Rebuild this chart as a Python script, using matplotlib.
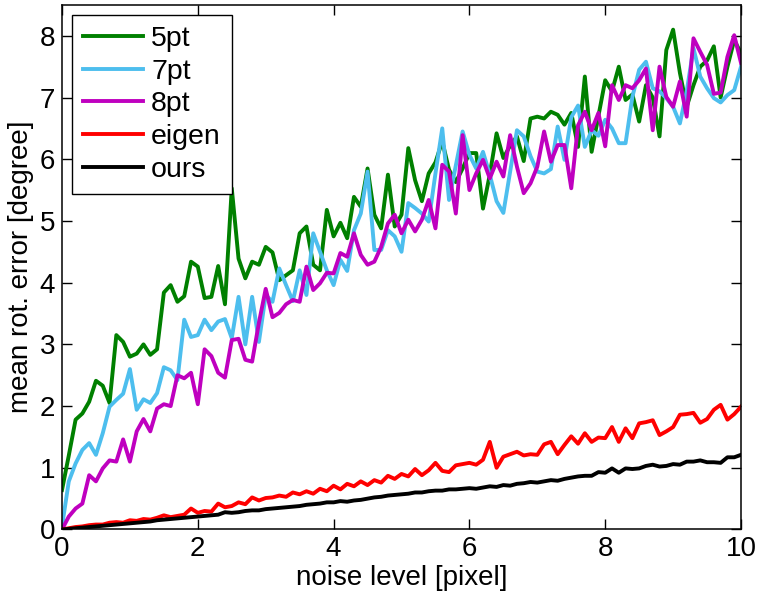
import numpy as np
import matplotlib
matplotlib.use("Agg")
import matplotlib.pyplot as plt

plt.rcParams['font.family'] = ['Liberation Sans', 'DejaVu Sans']

# noise level [pixel], 0..10 step 0.1
noise_level = np.linspace(0, 10, 101)

err_5pt = [0.64, 1.20, 1.78, 1.88, 2.07, 2.41, 2.33, 2.05, 3.15, 3.04,
           2.80, 2.85, 3.00, 2.83, 2.92, 3.84, 3.96, 3.69, 3.78, 4.34,
           4.26, 3.75, 3.77, 4.27, 3.65, 5.53, 4.39, 4.07, 4.34, 4.29,
           4.58, 4.49, 4.04, 4.12, 4.20, 4.80, 4.91, 4.29, 4.20, 5.18,
           4.75, 4.97, 4.72, 5.39, 5.23, 5.85, 5.10, 4.88, 5.75, 4.91,
           5.10, 6.18, 5.66, 5.32, 5.77, 5.95, 6.29, 5.83, 5.63, 5.85,
           6.10, 6.10, 5.20, 5.75, 6.42, 6.02, 6.22, 6.37, 5.97, 6.66,
           6.69, 6.66, 6.77, 6.72, 6.56, 6.75, 6.20, 7.34, 6.12, 6.70,
           7.28, 7.10, 7.50, 6.96, 7.05, 6.61, 7.20, 7.00, 6.37, 7.77,
           8.10, 7.40, 6.85, 7.20, 7.50, 7.60, 7.83, 7.00, 7.50, 7.93, 7.72]

err_7pt = [0.05, 0.78, 1.07, 1.29, 1.40, 1.21, 1.56, 1.99, 2.10, 2.20,
           2.60, 1.94, 2.11, 2.05, 2.21, 2.63, 2.58, 2.42, 3.40, 3.12,
           3.15, 3.40, 3.23, 3.37, 3.41, 3.10, 3.77, 3.00, 3.77, 3.04,
           3.80, 3.69, 4.23, 3.96, 3.70, 4.20, 3.80, 4.80, 4.50, 4.20,
           3.96, 4.37, 4.19, 4.85, 5.12, 5.80, 4.53, 4.53, 4.85, 4.75,
           4.50, 5.29, 5.21, 5.12, 4.99, 5.77, 6.50, 5.34, 5.90, 6.45,
           6.07, 5.85, 6.12, 5.75, 5.32, 5.13, 5.80, 6.47, 6.37, 6.05,
           5.80, 5.77, 5.84, 6.53, 5.99, 6.68, 6.87, 6.20, 6.47, 6.38,
           6.64, 6.50, 6.26, 6.26, 7.01, 7.45, 7.58, 7.15, 7.10, 6.99,
           6.85, 6.58, 7.10, 7.80, 7.34, 7.15, 6.99, 6.92, 7.04, 7.12, 7.50]

err_8pt = [0.00, 0.21, 0.34, 0.42, 0.88, 0.78, 0.99, 1.12, 1.10, 1.46,
           1.10, 1.59, 1.79, 1.59, 1.96, 2.03, 2.00, 2.50, 2.45, 2.54,
           2.03, 2.92, 2.81, 2.54, 2.46, 3.07, 3.09, 2.75, 2.72, 3.35,
           3.90, 3.44, 3.51, 3.65, 3.72, 3.69, 4.26, 3.88, 3.99, 4.16,
           4.15, 4.48, 4.42, 4.80, 4.45, 4.29, 4.34, 4.58, 4.96, 5.10,
           4.80, 5.02, 4.83, 5.02, 5.34, 4.88, 5.91, 5.80, 5.12, 6.39,
           5.50, 5.77, 5.99, 5.69, 5.96, 5.72, 6.39, 5.88, 5.45, 5.61,
           5.88, 6.45, 5.96, 6.23, 6.23, 5.53, 6.55, 6.77, 6.47, 6.75,
           6.21, 7.20, 6.96, 7.20, 7.15, 7.28, 7.47, 6.47, 7.50, 7.01,
           6.85, 7.26, 6.69, 7.96, 7.74, 7.53, 7.06, 7.08, 7.66, 8.01, 7.56]

err_eigen = [0.00, 0.02, 0.04, 0.05, 0.07, 0.08, 0.08, 0.11, 0.12, 0.11,
             0.15, 0.14, 0.17, 0.16, 0.19, 0.23, 0.20, 0.22, 0.24, 0.34,
             0.27, 0.30, 0.29, 0.42, 0.36, 0.38, 0.44, 0.41, 0.52, 0.47,
             0.51, 0.52, 0.55, 0.53, 0.60, 0.57, 0.62, 0.58, 0.66, 0.62,
             0.71, 0.65, 0.74, 0.70, 0.78, 0.72, 0.80, 0.76, 0.87, 0.82,
             0.90, 0.86, 0.98, 0.88, 0.96, 1.08, 0.95, 0.93, 1.04, 1.06,
             1.08, 1.05, 1.13, 1.42, 1.00, 1.18, 1.22, 1.26, 1.20, 1.22,
             1.21, 1.38, 1.42, 1.22, 1.37, 1.51, 1.39, 1.56, 1.42, 1.49,
             1.48, 1.66, 1.42, 1.64, 1.48, 1.72, 1.74, 1.77, 1.53, 1.59,
             1.66, 1.86, 1.87, 1.89, 1.73, 1.79, 1.94, 2.02, 1.78, 1.87, 1.99]

err_ours = [0.00, 0.01, 0.02, 0.03, 0.04, 0.05, 0.06, 0.07, 0.08, 0.09,
            0.10, 0.11, 0.12, 0.13, 0.15, 0.16, 0.17, 0.18, 0.19, 0.20,
            0.21, 0.22, 0.23, 0.24, 0.28, 0.27, 0.28, 0.30, 0.31, 0.31,
            0.33, 0.34, 0.35, 0.36, 0.37, 0.38, 0.40, 0.41, 0.42, 0.44,
            0.44, 0.46, 0.45, 0.47, 0.48, 0.50, 0.52, 0.53, 0.55, 0.56,
            0.57, 0.58, 0.60, 0.60, 0.62, 0.63, 0.63, 0.65, 0.65, 0.66,
            0.67, 0.66, 0.68, 0.70, 0.69, 0.72, 0.71, 0.74, 0.75, 0.77,
            0.76, 0.78, 0.80, 0.79, 0.82, 0.84, 0.86, 0.87, 0.87, 0.93,
            0.92, 0.99, 0.92, 0.99, 0.98, 0.99, 1.03, 1.05, 1.02, 1.03,
            1.06, 1.05, 1.10, 1.10, 1.12, 1.09, 1.09, 1.08, 1.17, 1.17, 1.21]

series = [("5pt", err_5pt, "#008000"),
          ("7pt", err_7pt, "#4DBEEE"),
          ("8pt", err_8pt, "#BF00BF"),
          ("eigen", err_eigen, "#FF0000"),
          ("ours", err_ours, "#000000")]

fig = plt.figure(figsize=(7.59, 6.05), dpi=100)
ax = fig.add_axes([0.0817, 0.1248, 0.8946, 0.867])

for label, values, color in series:
    ax.plot(noise_level, values, color=color, linewidth=2.8, label=label)

ax.set_xlim(0, 10)
ax.set_ylim(0, 8.5)
ax.set_xticks([0, 2, 4, 6, 8, 10])
ax.set_yticks(range(0, 9))
ax.tick_params(direction="in", top=True, right=True, length=7, width=1,
               labelsize=20, pad=5)
for spine in ax.spines.values():
    spine.set_linewidth(1.1)

ax.set_xlabel("noise level [pixel]", fontsize=20, labelpad=2)
ax.set_ylabel("mean rot. error [degree]", fontsize=20, labelpad=4)

leg = ax.legend(loc="upper left", fontsize=20.5, fancybox=False, framealpha=1,
                edgecolor="black", borderaxespad=0.35, handlelength=2.1,
                handletextpad=0.3, labelspacing=0.24, borderpad=0.38)
leg.get_frame().set_linewidth(1.0)

fig.savefig("out.png", dpi=100)
